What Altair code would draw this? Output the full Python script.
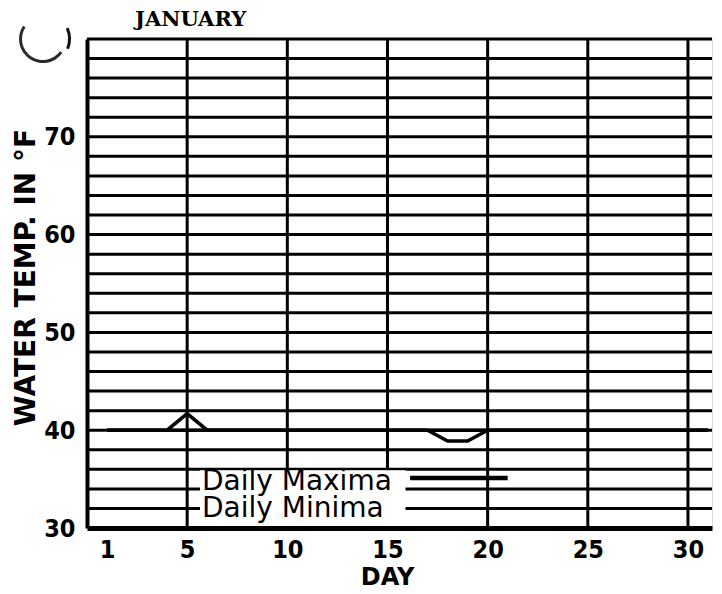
import altair as alt
import pandas as pd

# ---- data ----
days = [1, 2, 3, 4, 5, 6, 7, 8, 9, 10, 11, 12, 13, 14, 15, 16,
        17, 18, 19, 20, 21, 22, 23, 24, 25, 26, 27, 28, 29, 30, 31]
daily_maxima = [40, 40, 40, 40, 41.7, 40, 40, 40, 40, 40, 40, 40, 40, 40, 40, 40,
                40, 40, 40, 40, 40, 40, 40, 40, 40, 40, 40, 40, 40, 40, 40]
daily_minima = [40, 40, 40, 40, 40, 40, 40, 40, 40, 40, 40, 40, 40, 40, 40, 40,
                40, 38.9, 38.9, 40, 40, 40, 40, 40, 40, 40, 40, 40, 40, 40, 40]

x_ticks = [1, 5, 10, 15, 20, 25, 30]
y_ticks = [30, 40, 50, 60, 70]
x_grid = [5, 10, 15, 20, 25, 30]
y_grid = [32, 34, 36, 38, 40, 42, 44, 46, 48, 50, 52, 54, 56, 58, 60,
          62, 64, 66, 68, 70, 72, 74, 76, 78, 80]

legend_labels = ["Daily Maxima", "Daily Minima"]

# ---- frames ----
lines_df = pd.DataFrame({
    "day": days + days,
    "temp": daily_maxima + daily_minima,
    "series": ["Daily Maxima"] * len(days) + ["Daily Minima"] * len(days),
})

W, H = 625, 489
xs = alt.Scale(domain=[0, 31.2], nice=False, zero=False)
ys = alt.Scale(domain=[30, 80], nice=False, zero=False)

NUM_FONT = "Liberation Sans Narrow, DejaVu Sans Condensed, sans-serif"

x_axis = alt.Axis(
    values=x_ticks, grid=False, ticks=False, domainWidth=5, domainColor="black",
    labelFont=NUM_FONT, labelFontSize=25, labelFontWeight="bold", labelColor="black",
    labelPadding=9, labelFlush=False, labelOverlap=False,
    title="DAY", titleFont="DejaVu Sans", titleFontSize=24, titleFontWeight="bold",
    titleColor="black", titleX=300, titleY=56, titleAlign="center",
    titleBaseline="alphabetic", zindex=1,
)
y_axis = alt.Axis(
    values=y_ticks, grid=False, ticks=False, domainWidth=4, domainColor="black",
    labelFont=NUM_FONT, labelFontSize=25, labelFontWeight="bold", labelColor="black",
    labelPadding=12, labelFlush=False, labelOverlap=False,
    title="WATER TEMP. IN °F", titleFont="DejaVu Sans", titleFontSize=28,
    titleFontWeight="bold", titleColor="black", titleAngle=270,
    titleX=-53, titleY=238, titleAlign="center", titleBaseline="alphabetic", zindex=1,
)

hgrid = alt.Chart(pd.DataFrame({"t": y_grid})).mark_rule(
    color="black", strokeWidth=3
).encode(y=alt.Y("t:Q", scale=ys, axis=y_axis))

vgrid = alt.Chart(pd.DataFrame({"d": x_grid})).mark_rule(
    color="black", strokeWidth=3
).encode(x=alt.X("d:Q", scale=xs, axis=x_axis))

legend_box = alt.Chart(pd.DataFrame({"x1": [5.64], "x2": [15.9], "y1": [30.0], "y2": [35.9]})).mark_rect(
    color="white"
).encode(
    x=alt.X("x1:Q", scale=xs, axis=x_axis), x2="x2:Q",
    y=alt.Y("y1:Q", scale=ys, axis=y_axis), y2="y2:Q",
)

data_lines = alt.Chart(lines_df).mark_line(
    color="black", strokeWidth=3.5, strokeJoin="miter"
).encode(
    x=alt.X("day:Q", scale=xs, axis=x_axis),
    y=alt.Y("temp:Q", scale=ys, axis=y_axis),
    detail="series:N",
)

legend_text = alt.Chart(pd.DataFrame({
    "label": legend_labels, "x": [5.74, 5.74], "y": [33.9, 31.1]
})).mark_text(
    align="left", baseline="alphabetic", font="DejaVu Sans", fontSize=28, color="black"
).encode(
    x=alt.X("x:Q", scale=xs, axis=x_axis), y=alt.Y("y:Q", scale=ys, axis=y_axis), text="label:N"
)

max_sample = alt.Chart(pd.DataFrame({"a": [16.13], "b": [21.0], "y": [35.1]})).mark_rule(
    color="black", strokeWidth=4.5
).encode(x=alt.X("a:Q", scale=xs, axis=x_axis), x2="b:Q", y=alt.Y("y:Q", scale=ys, axis=y_axis))

min_sample = alt.Chart(pd.DataFrame({"a": [15.98], "b": [22.6], "y": [32.0]})).mark_rule(
    color="black", strokeWidth=2.5
).encode(x=alt.X("a:Q", scale=xs, axis=x_axis), x2="b:Q", y=alt.Y("y:Q", scale=ys, axis=y_axis))

one = pd.DataFrame({"k": [0]})
title_mark = alt.Chart(pd.DataFrame({"txt": ["JANUARY"]})).mark_text(
    align="left", baseline="alphabetic", font="DejaVu Serif", fontSize=21,
    fontWeight="bold", color="black"
).encode(x=alt.value(48), y=alt.value(-13), text="txt:N")

crescent = alt.Chart(one).mark_arc(color="#2a2a2a").encode(
    x=alt.value(-44), y=alt.value(0),
    theta=alt.value(2.2), theta2=alt.value(5.3),
    radius=alt.value(24), radius2=alt.value(21),
)
crescent_b = alt.Chart(one).mark_arc(color="#111111").encode(
    x=alt.value(-44), y=alt.value(0),
    theta=alt.value(1.15), theta2=alt.value(1.95),
    radius=alt.value(28), radius2=alt.value(25),
)

chart = alt.layer(
    hgrid, vgrid, legend_box, data_lines, legend_text, max_sample, min_sample,
    title_mark, crescent, crescent_b,
).properties(
    width=W, height=H,
    padding={"left": 79, "top": 31, "right": 2, "bottom": 58},
    autosize=alt.AutoSizeParams(type="none"),
).configure_view(
    stroke="black", strokeWidth=3
).configure(background="white")

chart.save("out.html", embed_options={"renderer": "svg", "actions": False})
